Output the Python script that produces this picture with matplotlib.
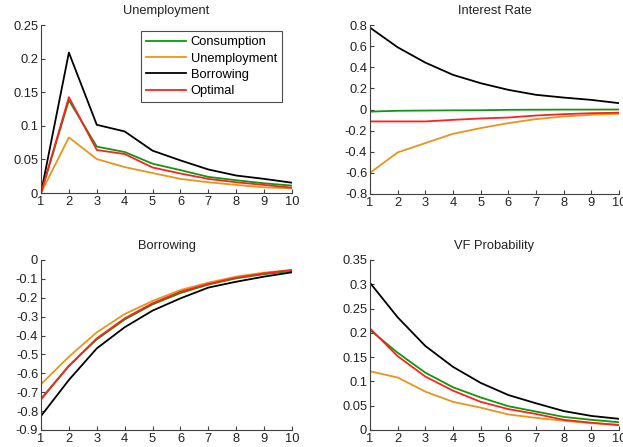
import matplotlib
matplotlib.use("Agg")
import matplotlib.pyplot as plt
import numpy as np

plt.rcParams['font.family'] = ['Liberation Sans', 'DejaVu Sans']

periods = list(range(1, 11))
series_names = ["Consumption", "Unemployment", "Borrowing", "Optimal"]
colors = ["#0a9a0a", "#e8951c", "#000000", "#ff2020"]

unemp = {
    "Consumption": [0, 0.138, 0.069, 0.061, 0.0436, 0.034, 0.024, 0.019, 0.0144, 0.011],
    "Unemployment": [0, 0.0827, 0.0505, 0.0386, 0.0297, 0.021, 0.016, 0.012, 0.0084, 0.007],
    "Borrowing": [0, 0.209, 0.1015, 0.0916, 0.063, 0.0485, 0.035, 0.026, 0.021, 0.0153],
    "Optimal": [0, 0.1426, 0.064, 0.058, 0.038, 0.029, 0.021, 0.016, 0.012, 0.008],
}
interest = {
    "Consumption": [-0.02, -0.012, -0.01, -0.008, -0.007, -0.003, -0.002, -0.001, -0.001, 0.0],
    "Unemployment": [-0.60, -0.406, -0.318, -0.23, -0.176, -0.129, -0.091, -0.066, -0.05, -0.04],
    "Borrowing": [0.775, 0.589, 0.444, 0.328, 0.249, 0.186, 0.139, 0.113, 0.091, 0.06],
    "Optimal": [-0.113, -0.113, -0.113, -0.098, -0.085, -0.076, -0.057, -0.044, -0.035, -0.03],
}
borrowing = {
    "Consumption": [-0.735, -0.56, -0.42, -0.315, -0.235, -0.175, -0.13, -0.097, -0.075, -0.058],
    "Unemployment": [-0.658, -0.512, -0.383, -0.286, -0.217, -0.159, -0.12, -0.088, -0.067, -0.053],
    "Borrowing": [-0.826, -0.635, -0.468, -0.356, -0.268, -0.203, -0.146, -0.115, -0.088, -0.065],
    "Optimal": [-0.738, -0.561, -0.415, -0.309, -0.229, -0.168, -0.127, -0.094, -0.071, -0.053],
}
vfprob = {
    "Consumption": [0.206, 0.159, 0.118, 0.088, 0.067, 0.049, 0.038, 0.027, 0.021, 0.016],
    "Unemployment": [0.121, 0.108, 0.079, 0.058, 0.046, 0.032, 0.025, 0.019, 0.014, 0.011],
    "Borrowing": [0.303, 0.232, 0.173, 0.130, 0.097, 0.072, 0.055, 0.039, 0.029, 0.023],
    "Optimal": [0.209, 0.152, 0.110, 0.081, 0.058, 0.043, 0.033, 0.021, 0.015, 0.010],
}

panels = [
    ("Unemployment", unemp, (0, 0.25), np.arange(0, 0.2501, 0.05), ["0", "0.05", "0.1", "0.15", "0.2", "0.25"]),
    ("Interest Rate", interest, (-0.8, 0.8), np.arange(-0.8, 0.801, 0.2), ["-0.8", "-0.6", "-0.4", "-0.2", "0", "0.2", "0.4", "0.6", "0.8"]),
    ("Borrowing", borrowing, (-0.9, 0), np.arange(-0.9, 0.001, 0.1), ["-0.9", "-0.8", "-0.7", "-0.6", "-0.5", "-0.4", "-0.3", "-0.2", "-0.1", "0"]),
    ("VF Probability", vfprob, (0, 0.35), np.arange(0, 0.3501, 0.05), ["0", "0.05", "0.1", "0.15", "0.2", "0.25", "0.3", "0.35"]),
]

W, H = 623, 447
fig = plt.figure(figsize=(W / 100, H / 100), dpi=100)
rects = [
    (41, 25, 292, 193),
    (370, 25, 619, 194),
    (41, 260, 292, 430),
    (370, 260, 619, 430),
]
axes_color = "#404040"
for (title, data, ylim, yticks, ylabels), (x0, y0, x1, y1) in zip(panels, rects):
    ax = fig.add_axes([x0 / W, 1 - y1 / H, (x1 - x0) / W, (y1 - y0) / H])
    for name, c in zip(series_names, colors):
        ax.plot(periods, data[name], color=c, lw=1.3, label=name)
    ax.set_xlim(1, 10)
    ax.set_ylim(*ylim)
    ax.set_xticks(periods)
    ax.set_yticks(yticks)
    ax.set_yticklabels(ylabels)
    ax.spines['top'].set_visible(False)
    ax.spines['right'].set_visible(False)
    for s in ('left', 'bottom'):
        ax.spines[s].set_color(axes_color)
        ax.spines[s].set_linewidth(0.8)
    ax.tick_params(direction='in', length=3, width=0.8, color=axes_color,
                   labelsize=9.3, labelcolor="#222222", pad=2)
    ax.set_title(title, fontsize=9.3, color="#222222", pad=8)
    if title == "Unemployment":
        leg = ax.legend(loc='upper right', bbox_to_anchor=(282 / W, 1 - 31 / H),
                        bbox_transform=fig.transFigure, fontsize=9.3, frameon=True,
                        fancybox=False, edgecolor="#222222", handlelength=3.1,
                        borderpad=0.4, labelspacing=0.33, handletextpad=0.35,
                        borderaxespad=0)
        leg.get_frame().set_linewidth(0.8)

fig.savefig("out.png", dpi=100)
